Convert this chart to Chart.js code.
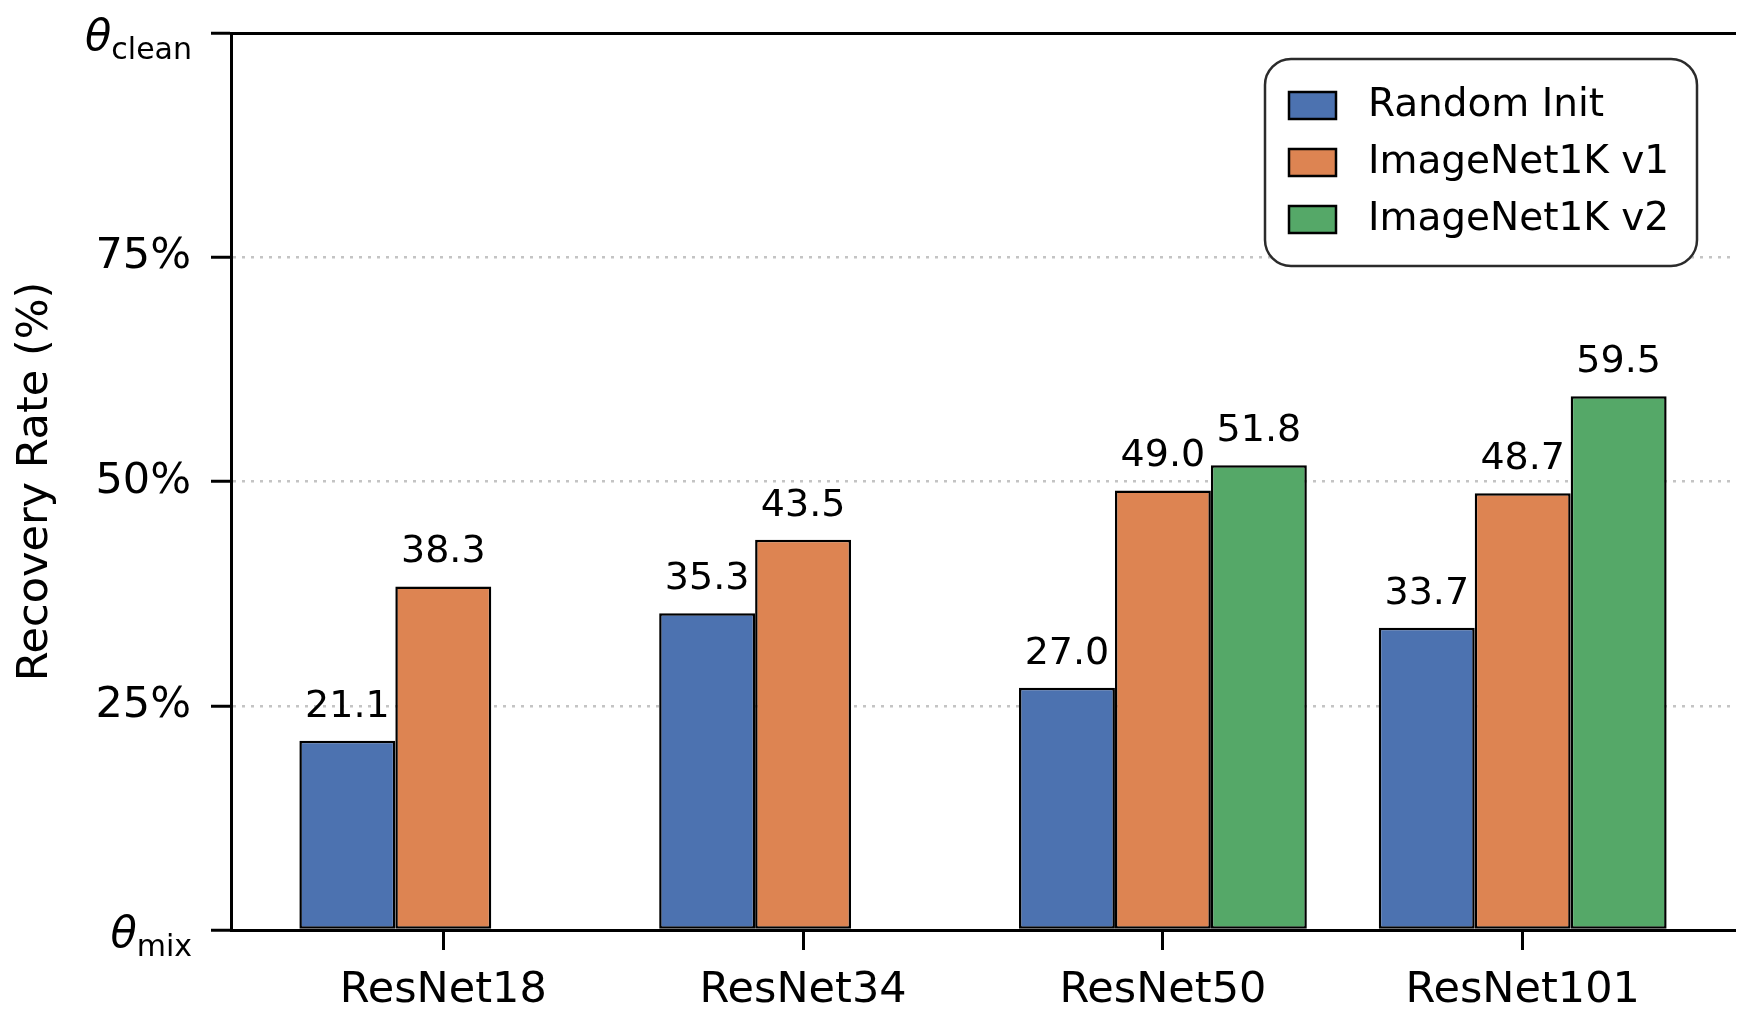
<!DOCTYPE html>
<html>
<head>
<meta charset="utf-8">
<script src="https://cdn.jsdelivr.net/npm/chart.js@4.4.1/dist/chart.umd.min.js"></script>
<style>
	html, body { margin: 0; padding: 0; background: #fff; }
	#wrap { width: 1750px; height: 1029px; }
</style>
</head>
<body>
<div id="wrap"><canvas id="recovery-chart"></canvas></div>
<script>
const models = ['ResNet18', 'ResNet34', 'ResNet50', 'ResNet101'];
const randomInit = [21.1, 35.3, 27.0, 33.7];
const imagenetV1 = [38.3, 43.5, 49.0, 48.7];
const imagenetV2 = [null, null, 51.8, 59.5];
const yTicks = [0, 25, 50, 75, 100];
const yTickLabels = ['θ_mix', '25%', '50%', '75%', 'θ_clean'];
const gridValues = [25, 50, 75];

Chart.defaults.font.family = '"DejaVu Sans", sans-serif';
Chart.defaults.color = '#000';

// legend frame, top right inside the plot
const frame = { x: 1265, y: 59, w: 432, h: 207, r: 26 };

const legendPlace = {
	id: 'legendPlace',
	afterLayout(chart) {
		const lg = chart.legend;
		if (!lg) {
			return;
		}
		lg.left = frame.x + 6;
		lg.top = frame.y + 9;
		lg.right = lg.left + frame.w;
		lg.bottom = lg.top + 400;
		if (!lg._framed) {
			const draw = lg.draw;
			lg.draw = function () {
				const c = this.ctx;
				c.save();
				c.beginPath();
				c.roundRect(frame.x, frame.y, frame.w, frame.h, frame.r);
				c.fillStyle = '#fff';
				c.fill();
				c.lineWidth = 2.5;
				c.strokeStyle = '#2b2b2b';
				c.stroke();
				c.restore();
				draw.apply(this, arguments);
			};
			lg._framed = true;
		}
	},
};

const barValues = {
	id: 'barValues',
	afterDatasetsDraw(chart) {
		const ctx = chart.ctx;
		ctx.save();
		ctx.font = '38px "DejaVu Sans"';
		ctx.fillStyle = '#000';
		ctx.textAlign = 'center';
		ctx.textBaseline = 'alphabetic';
		chart.data.datasets.forEach((ds, di) => {
			chart.getDatasetMeta(di).data.forEach((bar, i) => {
				const v = ds.data[i].y;
				if (v === null) {
					return;
				}
				ctx.fillText(v.toFixed(1), bar.x, bar.y - 24);
			});
		});
		ctx.restore();
	},
};

const thetaTicks = {
	id: 'thetaTicks',
	afterDraw(chart) {
		const ctx = chart.ctx;
		const y = chart.scales.y;
		const right = y.right - 20 - 19;
		ctx.save();
		ctx.fillStyle = '#000';
		ctx.textAlign = 'right';
		ctx.textBaseline = 'alphabetic';
		yTicks.forEach((v, i) => {
			const lab = yTickLabels[i];
			if (!lab.includes('_')) {
				return;
			}
			const [sym, sub] = lab.split('_');
			const py = y.getPixelForValue(v);
			ctx.font = '30px "DejaVu Sans"';
			ctx.fillText(sub, right, py + 26);
			const w = ctx.measureText(sub).width;
			ctx.font = 'italic 43px "DejaVu Sans"';
			ctx.fillText(sym, right - w, py + 17);
		});
		ctx.restore();
	},
};

function points(values) {
	return values.map((v, i) => ({ x: i, y: v }));
}

const ctx = document.getElementById('recovery-chart');

new Chart(ctx, {
	type: 'bar',
	data: {
		datasets: [
			{
				label: 'Random Init',
				data: points(randomInit),
				backgroundColor: '#4C72B0',
				borderColor: '#000',
				borderWidth: 2.5,
				borderSkipped: false,
			},
			{
				label: 'ImageNet1K v1',
				data: points(imagenetV1),
				backgroundColor: '#DD8452',
				borderColor: '#000',
				borderWidth: 2.5,
				borderSkipped: false,
			},
			{
				label: 'ImageNet1K v2',
				data: points(imagenetV2),
				backgroundColor: '#55A868',
				borderColor: '#000',
				borderWidth: 2.5,
				borderSkipped: false,
			},
		],
	},
	options: {
		responsive: true,
		maintainAspectRatio: false,
		animation: false,
		layout: {
			padding: { left: 0, right: 15, top: 33, bottom: 0 },
		},
		datasets: {
			bar: {
				categoryPercentage: 0.8,
				barPercentage: 1.0,
			},
		},
		plugins: {
			legend: {
				position: 'chartArea',
				align: 'start',
				labels: {
					font: { size: 39 },
					color: '#000',
					boxWidth: 47,
					boxHeight: 27,
					padding: 18,
					generateLabels: (chart) =>
						Chart.defaults.plugins.legend.labels.generateLabels(chart).map((item) => ({
							...item,
							text: ' ' + item.text,
						})),
				},
			},
			tooltip: {
				enabled: false,
			},
		},
		scales: {
			x: {
				type: 'linear',
				min: -0.59,
				max: 3.59,
				offset: false,
				afterBuildTicks: (scale) => {
					scale.ticks = models.map((m, i) => ({ value: i }));
				},
				afterFit: (scale) => {
					scale.height = 99;
				},
				ticks: {
					callback: (v) => models[v] ?? '',
					font: { size: 43 },
					color: '#000',
					padding: 15,
					autoSkip: false,
					maxRotation: 0,
				},
				grid: {
					offset: false,
					drawOnChartArea: false,
					tickColor: '#000',
					tickWidth: 3,
					tickLength: 20,
				},
				border: {
					color: '#000',
					width: 3,
				},
			},
			x2: {
				type: 'linear',
				position: 'top',
				min: -0.59,
				max: 3.59,
				afterFit: (scale) => {
					scale.height = 0;
				},
				ticks: { display: false },
				grid: { display: false, drawTicks: false },
				border: {
					color: '#000',
					width: 3,
				},
			},
			y: {
				min: 0,
				max: 100,
				afterBuildTicks: (scale) => {
					scale.ticks = yTicks.map((v) => ({ value: v }));
				},
				afterFit: (scale) => {
					scale.width = 231;
					scale.paddingTop = 0;
					scale.paddingBottom = 0;
				},
				ticks: {
					callback: (v) => {
						const lab = yTickLabels[yTicks.indexOf(v)];
						return lab && !lab.includes('_') ? lab : '';
					},
					font: { size: 43 },
					color: '#000',
					padding: 20,
				},
				title: {
					display: true,
					text: 'Recovery Rate (%)',
					font: { size: 43 },
					color: '#000',
					padding: { top: 10, bottom: 0 },
				},
				grid: {
					color: (c) => (gridValues.includes(c.tick && c.tick.value) ? '#c4c4c4' : 'rgba(0,0,0,0)'),
					lineWidth: 2.5,
					tickColor: '#000',
					tickWidth: 3,
					tickLength: 20,
				},
				border: {
					color: '#000',
					width: 3,
					dash: [3, 6],
				},
			},
		},
	},
	plugins: [legendPlace, barValues, thetaTicks],
});
</script>
</body>
</html>
